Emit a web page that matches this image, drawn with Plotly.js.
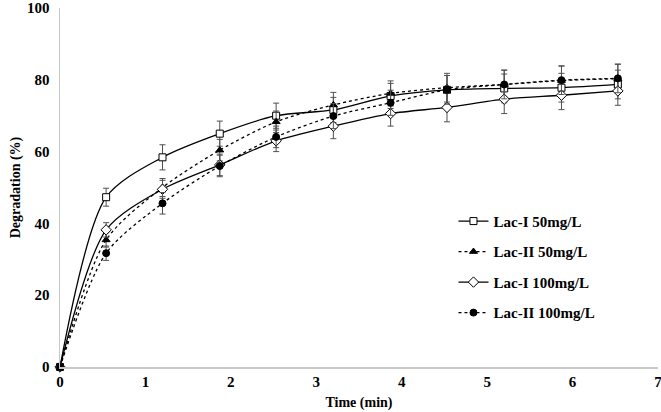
<!DOCTYPE html>
<html>
<head>
<meta charset="utf-8">
<script src="https://cdn.plot.ly/plotly-3.0.1.min.js"></script>
<style>html,body{margin:0;padding:0;background:#fff;}#chart{width:661px;height:412px;}</style>
</head>
<body>
<div id="chart"></div>
<script>
var time = [0, 0.54, 1.2, 1.87, 2.53, 3.2, 3.87, 4.53, 5.2, 5.87, 6.53];
var lacI50 = [0, 47.3, 58.4, 65.0, 70.0, 71.6, 75.5, 77.2, 77.6, 77.8, 78.7];
var lacII50 = [0, 35.4, 50.0, 60.4, 68.3, 73.0, 76.2, 77.8, 78.7, 79.8, 80.3];
var lacI100 = [0, 38.2, 49.5, 56.3, 63.0, 67.1, 70.6, 72.3, 74.6, 75.7, 76.9];
var lacII100 = [0, 31.7, 45.6, 56.0, 64.1, 69.9, 73.6, 77.2, 78.7, 79.9, 80.4];
var errI50 = [0, 2.5, 3.5, 3.5, 3.5, 3.5, 3.5, 4, 4, 4, 4];
var errII50 = [0, 2, 2.5, 3, 3, 3.5, 3.5, 4, 4, 4, 4];
var errI100 = [0, 2, 2.5, 3, 3, 3.5, 3.5, 4, 4, 4, 4];
var errII100 = [0, 2, 3, 3, 3, 3.5, 3.5, 4, 4, 4, 4];
var names = ['Lac-I 50mg/L', 'Lac-II 50mg/L', 'Lac-I 100mg/L', 'Lac-II 100mg/L'];

function tr(y, err, name, dash, sym, fill, g) {
  return {
    x: time, y: y, name: name, type: 'scatter', mode: 'lines+markers',
    legendgroup: g, cliponaxis: false,
    line: {color: '#000', width: 1.3, dash: dash, shape: 'spline', smoothing: 0.8},
    marker: {symbol: sym, size: sym === 'diamond' ? 8 : 7, color: fill, line: {color: '#000', width: 1}},
    error_y: {type: 'data', array: err, visible: true, color: '#505050', thickness: 1, width: 3}
  };
}
var data = [
  tr(lacI50, errI50, names[0], 'solid', 'square', '#fff', 'a'),
  tr(lacII50, errII50, names[1], 'dot', 'triangle-up', '#000', 'b'),
  tr(lacI100, errI100, names[2], 'solid', 'diamond', '#fff', 'c'),
  tr(lacII100, errII100, names[3], 'dot', 'circle', '#000', 'd')
];
var font = {family: 'Liberation Serif, Times New Roman, serif', color: '#000', size: 14};
var layout = {
  width: 661, height: 412,
  margin: {l: 60, r: 3, t: 8, b: 45},
  paper_bgcolor: '#fff', plot_bgcolor: '#fff',
  font: font,
  showlegend: true,
  legend: {x: 0.658, y: 0.279, xanchor: 'left', yanchor: 'middle', tracegroupgap: 8,
           font: {family: font.family, size: 15, color: '#000', weight: 'bold'}, bgcolor: 'rgba(0,0,0,0)'},
  xaxis: {range: [0, 7], dtick: 1, showgrid: false, zeroline: false, showline: true, linecolor: '#c8c8c8', linewidth: 1.5,
          ticks: '', ticklabeloverflow: 'allow', tickfont: {family: font.family, size: 15, weight: 'bold', color: '#000'},
          title: {text: 'Time (min)', font: {family: font.family, size: 14, weight: 'bold', color: '#000'}, standoff: 8}},
  yaxis: {range: [0, 100], dtick: 20, showgrid: false, zeroline: false, showline: true, linecolor: '#c8c8c8', linewidth: 1.5,
          ticks: '', ticklabelstandoff: 6, tickfont: {family: font.family, size: 15, weight: 'bold', color: '#000'},
          title: {text: 'Degradation (%)', font: {family: font.family, size: 14, weight: 'bold', color: '#000'}, standoff: 3}}
};
Plotly.newPlot('chart', data, layout, {displayModeBar: false, staticPlot: true});
</script>
</body>
</html>
